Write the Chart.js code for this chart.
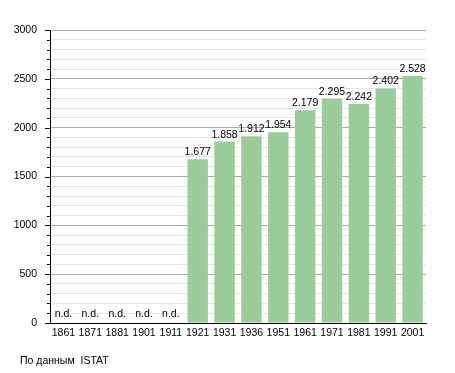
<!DOCTYPE html>
<html>
<head>
<meta charset="utf-8">
<script src="https://cdn.jsdelivr.net/npm/chart.js@4/dist/chart.umd.min.js"></script>
<style>
  body { margin: 0; background: #fff; }
  #grafico { display: block; }
</style>
</head>
<body>
<canvas id="grafico" width="455" height="373"></canvas>
<script>
// dati del censimento (n.d. = null)
const anni = ['1861', '1871', '1881', '1901', '1911', '1921', '1931', '1936', '1951', '1961', '1971', '1981', '1991', '2001'];
const abitanti = [null, null, null, null, null, 1677, 1858, 1912, 1954, 2179, 2295, 2242, 2402, 2528];
const etichetteY = [0, 500, 1000, 1500, 2000, 2500, 3000];
const fonte = 'По данным  ISTAT';

const FONT = '"Liberation Sans", Arial, sans-serif';

function formatta(v) {
  return v.toString().replace(/\B(?=(\d{3})+(?!\d))/g, '.');
}

// tacche dell'asse y, lunghe sulle principali
const tacche = {
  id: 'tacche',
  afterDraw(chart) {
    const ctx = chart.ctx;
    const y = chart.scales.y;
    ctx.save();
    ctx.strokeStyle = '#000';
    ctx.lineWidth = 1;
    y.ticks.forEach(t => {
      const py = Math.round(y.getPixelForValue(t.value)) + 0.5;
      const len = etichetteY.includes(t.value) ? 5 : 3;
      ctx.beginPath();
      ctx.moveTo(y.right - len, py);
      ctx.lineTo(y.right, py);
      ctx.stroke();
    });
    ctx.restore();
  }
};

// valori sopra le barre e fonte in basso
const valori = {
  id: 'valori',
  afterDatasetsDraw(chart) {
    const ctx = chart.ctx;
    const x = chart.scales.x;
    const y = chart.scales.y;
    ctx.save();
    ctx.font = '10.5px ' + FONT;
    ctx.fillStyle = '#000';
    ctx.textAlign = 'center';
    ctx.textBaseline = 'alphabetic';
    abitanti.forEach((v, i) => {
      const px = x.getPixelForValue(i);
      if (v == null) {
        ctx.fillText('n.d.', px, y.getPixelForValue(0) - 6);
      } else {
        ctx.fillText(formatta(v), px, y.getPixelForValue(v) - 4);
      }
    });
    ctx.textAlign = 'left';
    ctx.textBaseline = 'middle';
    ctx.fillText(fonte, 20, 361);
    ctx.restore();
  }
};

const grafico = new Chart(document.getElementById('grafico'), {
  type: 'bar',
  data: {
    labels: anni,
    datasets: [{
      data: abitanti,
      backgroundColor: '#99cc99',
      borderWidth: 0,
      barPercentage: 0.76,
      categoryPercentage: 1
    }]
  },
  options: {
    responsive: false,
    devicePixelRatio: 1,
    animation: false,
    layout: { padding: { top: 30, right: 29, bottom: 30, left: 0 } },
    plugins: {
      legend: { display: false },
      tooltip: { enabled: false }
    },
    scales: {
      x: {
        grid: { display: false, drawTicks: false },
        border: { color: '#000', width: 1 },
        ticks: {
          autoSkip: false,
          maxRotation: 0,
          padding: 4,
          color: '#000',
          font: { family: FONT, size: 10.5 }
        },
        afterFit: s => { s.height = 20; }
      },
      y: {
        min: 0,
        max: 3000,
        grid: {
          drawTicks: false,
          color: c => etichetteY.includes(c.tick.value) ? '#aaaaaa' : '#e4e4e4'
        },
        border: { color: '#000', width: 1 },
        ticks: {
          stepSize: 100,
          maxTicksLimit: 31,
          autoSkip: false,
          padding: 13,
          color: '#000',
          font: { family: FONT, size: 10.5 },
          callback: v => etichetteY.includes(v) ? v : ''
        },
        afterFit: s => { s.width = 50; }
      }
    }
  },
  plugins: [tacche, valori]
});
</script>
</body>
</html>
